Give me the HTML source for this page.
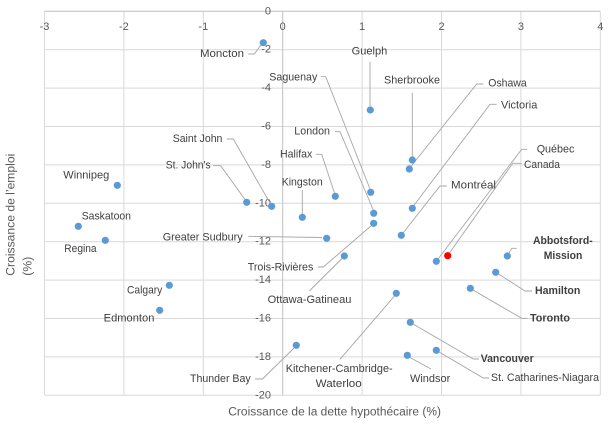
<!DOCTYPE html>
<html><head><meta charset="utf-8"><style>
html,body{margin:0;padding:0;background:#fff;}
svg{display:block;}
text{font-family:"Liberation Sans",sans-serif;dominant-baseline:central;}
.t{font-size:11px;fill:#595959;}
.l{font-size:11px;fill:#404040;}
.b{font-size:11px;fill:#404040;font-weight:bold;}
.ld{stroke:#a6a6a6;stroke-width:0.9;fill:none;}
</style></head><body>
<svg width="612" height="425" viewBox="0 0 612 425" xmlns="http://www.w3.org/2000/svg">
<rect width="612" height="425" fill="#fff"/>
<!-- gridlines -->
<g stroke="#d9d9d9" stroke-width="1">
<line x1="44.5" y1="11.3" x2="44.5" y2="395"/>
<line x1="123.9" y1="11.3" x2="123.9" y2="395"/>
<line x1="203.3" y1="11.3" x2="203.3" y2="395"/>
<line x1="362.1" y1="11.3" x2="362.1" y2="395"/>
<line x1="441.5" y1="11.3" x2="441.5" y2="395"/>
<line x1="520.9" y1="11.3" x2="520.9" y2="395"/>
<line x1="600.3" y1="11.3" x2="600.3" y2="395"/>
<line x1="44.5" y1="49.7" x2="600.3" y2="49.7"/>
<line x1="44.5" y1="88.1" x2="600.3" y2="88.1"/>
<line x1="44.5" y1="126.5" x2="600.3" y2="126.5"/>
<line x1="44.5" y1="164.9" x2="600.3" y2="164.9"/>
<line x1="44.5" y1="203.3" x2="600.3" y2="203.3"/>
<line x1="44.5" y1="241.7" x2="600.3" y2="241.7"/>
<line x1="44.5" y1="280.1" x2="600.3" y2="280.1"/>
<line x1="44.5" y1="318.5" x2="600.3" y2="318.5"/>
<line x1="44.5" y1="356.9" x2="600.3" y2="356.9"/>
<line x1="44.5" y1="395.3" x2="600.3" y2="395.3"/>
</g>
<g stroke="#bfbfbf" stroke-width="1">
<line x1="44.5" y1="11.3" x2="600.3" y2="11.3"/>
<line x1="282.7" y1="11.3" x2="282.7" y2="395.3"/>
</g>
<!-- x tick labels -->
<g class="t" text-anchor="middle">
<text x="44.5" y="27">-3</text>
<text x="123.9" y="27">-2</text>
<text x="203.3" y="27">-1</text>
<text x="282.7" y="27">0</text>
<text x="362.1" y="27">1</text>
<text x="441.5" y="27">2</text>
<text x="520.9" y="27">3</text>
<text x="600.3" y="27">4</text>
</g>
<!-- y tick labels -->
<g class="t" text-anchor="end">
<text x="271" y="11.3">0</text>
<text x="271" y="49.7">-2</text>
<text x="271" y="88.1">-4</text>
<text x="271" y="126.5">-6</text>
<text x="271" y="164.9">-8</text>
<text x="271" y="203.3">-10</text>
<text x="271" y="241.7">-12</text>
<text x="271" y="280.1">-14</text>
<text x="271" y="318.5">-16</text>
<text x="271" y="356.9">-18</text>
<text x="271" y="395.3">-20</text>
</g>
<!-- axis titles -->
<text class="t" x="228.3" y="412.3" textLength="212.7" lengthAdjust="spacingAndGlyphs" style="font-size:11.5px">Croissance de la dette hypothécaire (%)</text>
<text class="t" transform="translate(11.5,275.7) rotate(-90)" x="0" y="0" textLength="122" lengthAdjust="spacingAndGlyphs" style="font-size:11.5px">Croissance de l’emploi</text>
<text class="t" transform="translate(28.3,275.7) rotate(-90)" x="0" y="0" textLength="19" lengthAdjust="spacingAndGlyphs" style="font-size:11.5px">(%)</text>
<!-- leader lines -->
<g class="ld">
<polyline points="248.3,54 254.3,54 261,45"/>
<polyline points="370,61.7 370,106"/>
<polyline points="412.3,92.7 412.3,157"/>
<polyline points="483.3,84 476.7,84 410.5,167"/>
<polyline points="496.7,104.3 490,104.3 413.5,206"/>
<polyline points="320.7,76.7 325.7,76.7 370,189"/>
<polyline points="335,131.7 340,131.7 373.3,210"/>
<polyline points="316,154.3 321.7,154.3 334.5,193"/>
<polyline points="302.3,190 302.3,214"/>
<polyline points="226.7,139 233.3,139 270,203"/>
<polyline points="213,165.7 220.7,165.7 245,199.5"/>
<polyline points="248.3,236.3 322,237.5"/>
<polyline points="317.7,267 323.3,267 371.5,225.5"/>
<polyline points="309.3,291 342,258.5"/>
<polyline points="446.7,186 440,186 403,233"/>
<polyline points="527.3,149.3 521.7,149.3 438,259"/>
<polyline points="521.7,163.3 512.7,163.3 449.5,253"/>
<polyline points="509,253 511.7,248.3 516.7,248.3"/>
<polyline points="498.5,274 525,291 532,291"/>
<polyline points="473,290 521.7,318.3 527.5,318.3"/>
<polyline points="413,324 473.3,359 479,359"/>
<polyline points="439,352 483.3,378 489,378"/>
<polyline points="410,357.5 431,369"/>
<polyline points="394.5,296 340,359.3"/>
<polyline points="255,379 262.5,379 294.5,347.5"/>
</g>
<!-- points -->
<g fill="#5b9bd5">
<circle cx="263.3" cy="42.7" r="3.6"/>
<circle cx="370.3" cy="110" r="3.6"/>
<circle cx="412.3" cy="160" r="3.6"/>
<circle cx="409.3" cy="169" r="3.6"/>
<circle cx="412.3" cy="208.3" r="3.6"/>
<circle cx="401.3" cy="235.3" r="3.6"/>
<circle cx="436.3" cy="261.3" r="3.6"/>
<circle cx="507.3" cy="256" r="3.6"/>
<circle cx="495.7" cy="272.3" r="3.6"/>
<circle cx="470.3" cy="288.3" r="3.6"/>
<circle cx="410.3" cy="322.3" r="3.6"/>
<circle cx="436.3" cy="350.3" r="3.6"/>
<circle cx="407.3" cy="355.3" r="3.6"/>
<circle cx="396.3" cy="293.3" r="3.6"/>
<circle cx="296.3" cy="345.3" r="3.6"/>
<circle cx="169.3" cy="285.3" r="3.6"/>
<circle cx="159.7" cy="310.3" r="3.6"/>
<circle cx="117.3" cy="185.3" r="3.6"/>
<circle cx="78.3" cy="226.3" r="3.6"/>
<circle cx="105.3" cy="240.3" r="3.6"/>
<circle cx="271.7" cy="206.3" r="3.6"/>
<circle cx="246.7" cy="202.3" r="3.6"/>
<circle cx="302.3" cy="217.3" r="3.6"/>
<circle cx="335.3" cy="196.3" r="3.6"/>
<circle cx="373.7" cy="213.3" r="3.6"/>
<circle cx="370.7" cy="192.3" r="3.6"/>
<circle cx="373.7" cy="223.3" r="3.6"/>
<circle cx="326.7" cy="238.3" r="3.6"/>
<circle cx="344.3" cy="256" r="3.6"/>
</g>
<circle cx="447.7" cy="255.7" r="3.6" fill="#ff0000"/>
<!-- labels -->
<g class="l">
<text x="200" y="54" textLength="44" lengthAdjust="spacingAndGlyphs">Moncton</text>
<text x="351.7" y="51.7" textLength="35.6" lengthAdjust="spacingAndGlyphs">Guelph</text>
<text x="384" y="80.3" textLength="56" lengthAdjust="spacingAndGlyphs">Sherbrooke</text>
<text x="488.3" y="83.3" textLength="38.4" lengthAdjust="spacingAndGlyphs">Oshawa</text>
<text x="501" y="105.3" textLength="36.3" lengthAdjust="spacingAndGlyphs">Victoria</text>
<text x="269.3" y="77.3" textLength="48" lengthAdjust="spacingAndGlyphs">Saguenay</text>
<text x="294.3" y="131.7" textLength="35.7" lengthAdjust="spacingAndGlyphs">London</text>
<text x="280" y="154.3" textLength="32.3" lengthAdjust="spacingAndGlyphs">Halifax</text>
<text x="281.7" y="182.3" textLength="41" lengthAdjust="spacingAndGlyphs">Kingston</text>
<text x="172.7" y="139" textLength="49.7" lengthAdjust="spacingAndGlyphs">Saint John</text>
<text x="165.7" y="165.7" textLength="45" lengthAdjust="spacingAndGlyphs">St. John's</text>
<text x="63.3" y="175.7" textLength="46" lengthAdjust="spacingAndGlyphs">Winnipeg</text>
<text x="81.7" y="216.7" textLength="49.3" lengthAdjust="spacingAndGlyphs">Saskatoon</text>
<text x="64.3" y="249" textLength="32.3" lengthAdjust="spacingAndGlyphs">Regina</text>
<text x="162.7" y="237.5" textLength="80" lengthAdjust="spacingAndGlyphs">Greater Sudbury</text>
<text x="247.7" y="267.3" textLength="65.7" lengthAdjust="spacingAndGlyphs">Trois-Rivières</text>
<text x="267.7" y="300" textLength="83.7" lengthAdjust="spacingAndGlyphs">Ottawa-Gatineau</text>
<text x="451" y="185.7" textLength="45" lengthAdjust="spacingAndGlyphs">Montréal</text>
<text x="536.7" y="149.3" textLength="37.7" lengthAdjust="spacingAndGlyphs">Québec</text>
<text x="524" y="165" textLength="36" lengthAdjust="spacingAndGlyphs">Canada</text>
<text x="491" y="378" textLength="108" lengthAdjust="spacingAndGlyphs">St. Catharines-Niagara</text>
<text x="410" y="379" textLength="40.3" lengthAdjust="spacingAndGlyphs">Windsor</text>
<text x="285.7" y="369" textLength="107" lengthAdjust="spacingAndGlyphs">Kitchener-Cambridge-</text>
<text x="315.7" y="384" textLength="46" lengthAdjust="spacingAndGlyphs">Waterloo</text>
<text x="190" y="379" textLength="60.7" lengthAdjust="spacingAndGlyphs">Thunder Bay</text>
<text x="127" y="290.3" textLength="35.3" lengthAdjust="spacingAndGlyphs">Calgary</text>
<text x="103.7" y="318.3" textLength="50.7" lengthAdjust="spacingAndGlyphs">Edmonton</text>
</g>
<g class="b">
<text x="533" y="241" textLength="59.7" lengthAdjust="spacingAndGlyphs">Abbotsford-</text>
<text x="543.7" y="256" textLength="38.7" lengthAdjust="spacingAndGlyphs">Mission</text>
<text x="535" y="291" textLength="45.3" lengthAdjust="spacingAndGlyphs">Hamilton</text>
<text x="530" y="318.3" textLength="40" lengthAdjust="spacingAndGlyphs">Toronto</text>
<text x="480.7" y="359" textLength="53" lengthAdjust="spacingAndGlyphs">Vancouver</text>
</g>
</svg>
</body></html>
